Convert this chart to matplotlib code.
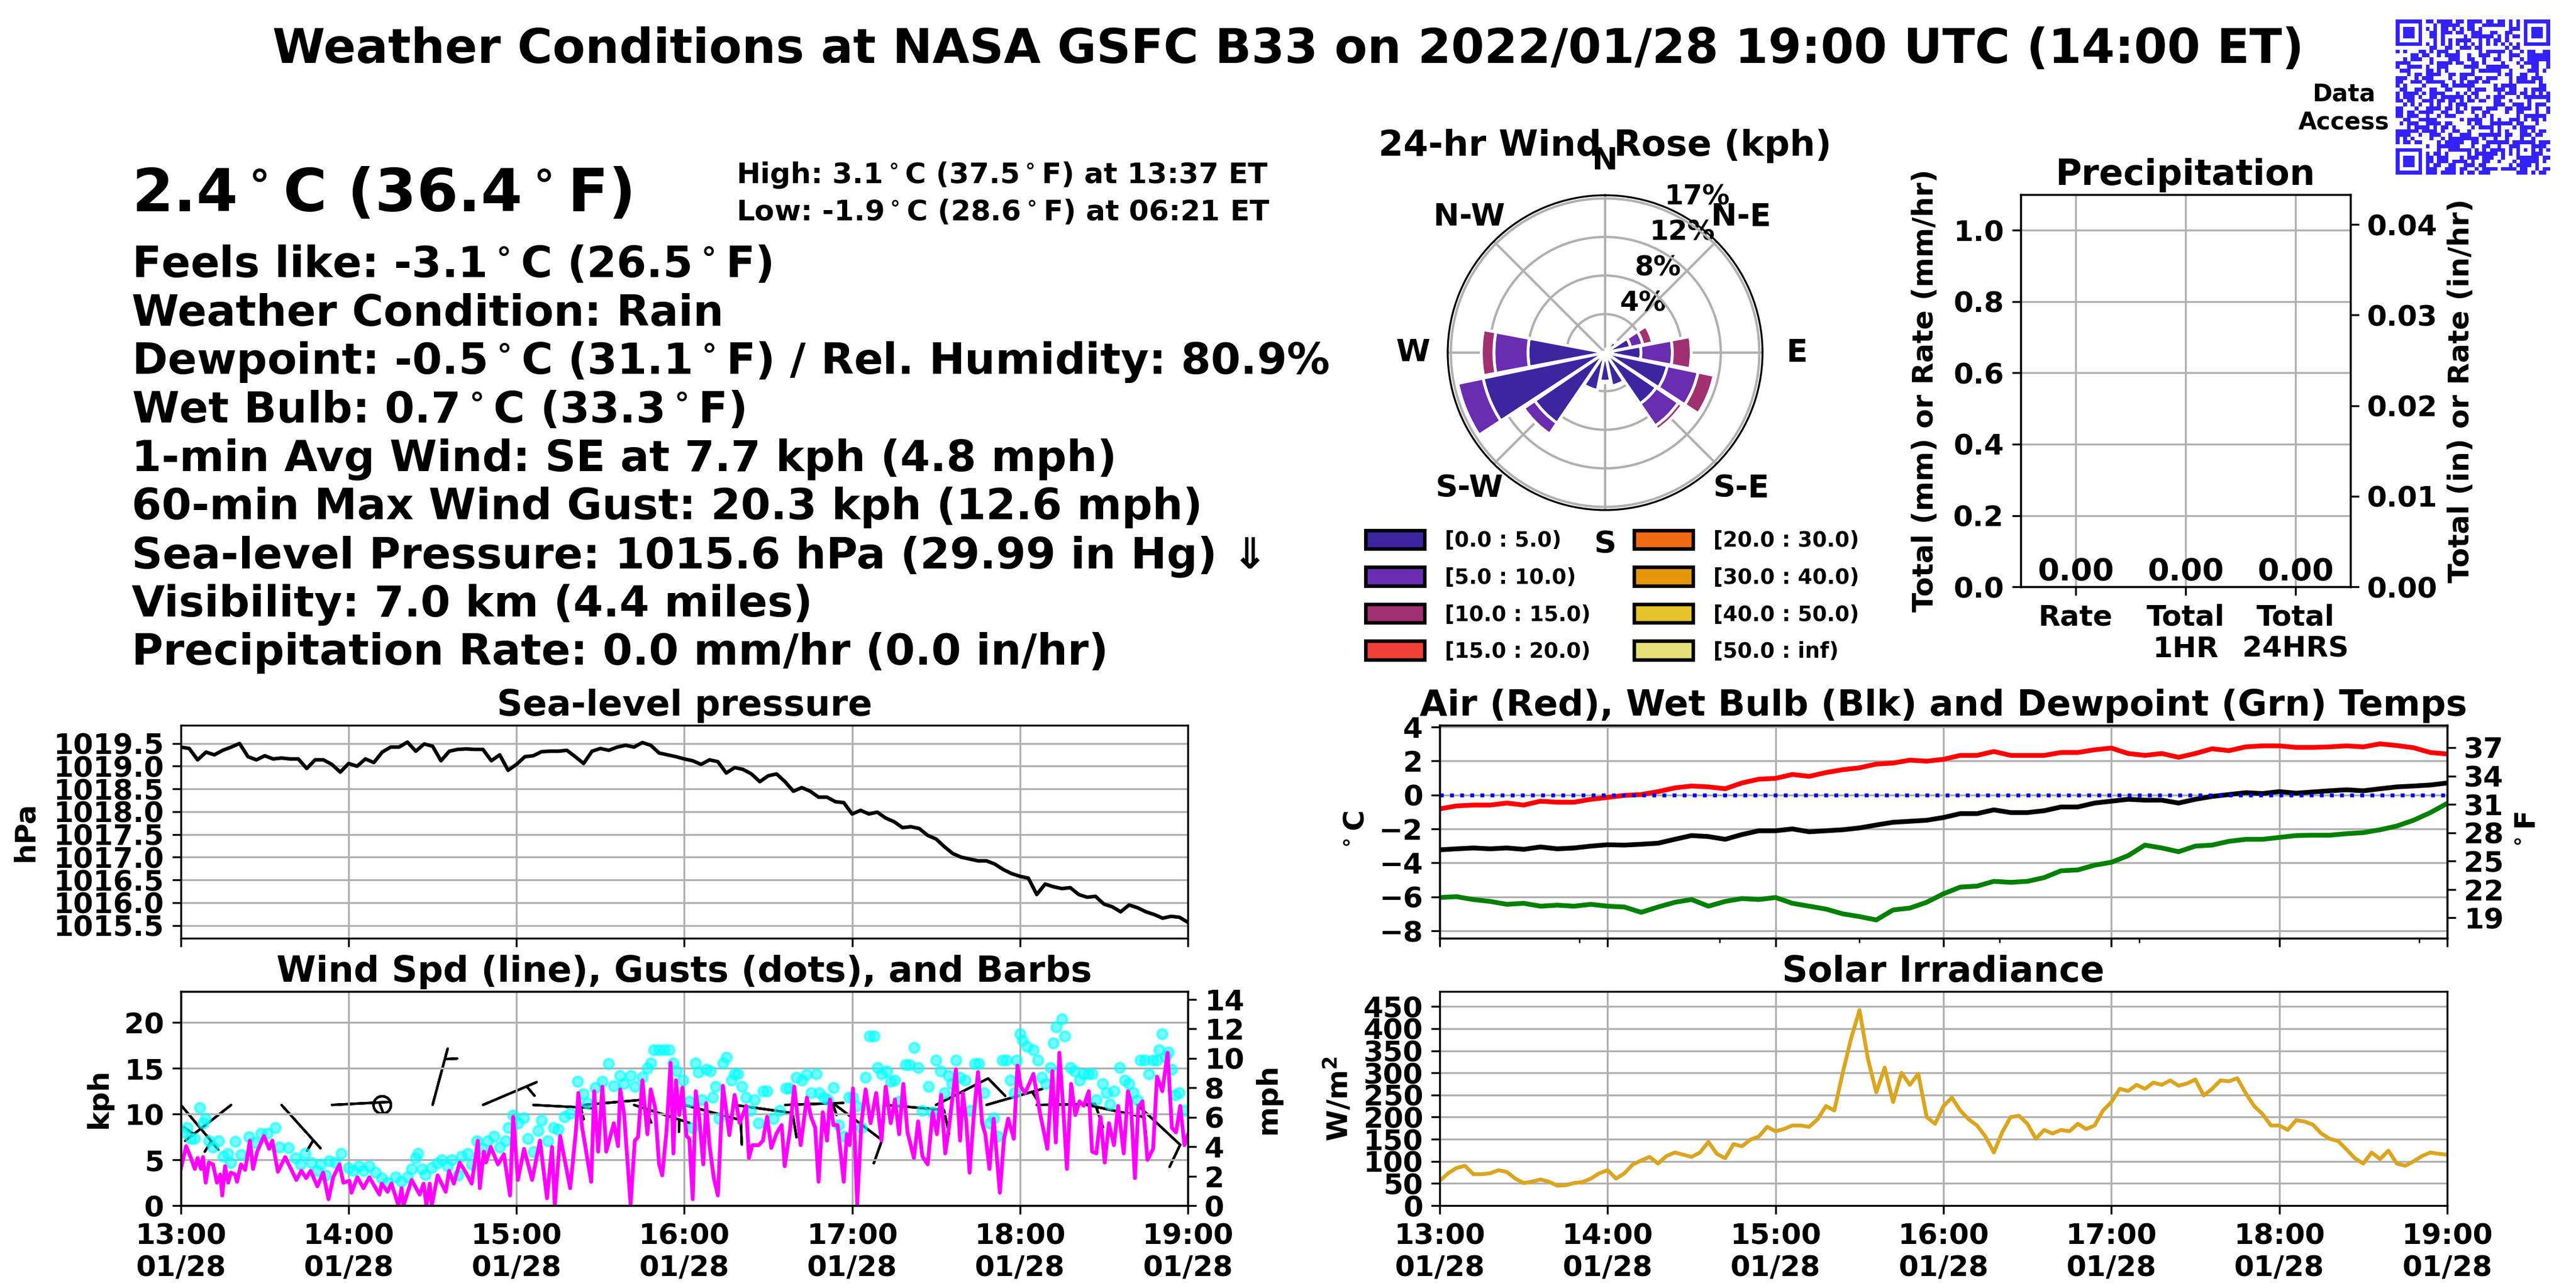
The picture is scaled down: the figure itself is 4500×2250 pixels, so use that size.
import matplotlib
matplotlib.use("Agg")
import matplotlib.pyplot as plt
import matplotlib.dates as mdates
from matplotlib.patches import Patch
from matplotlib.colors import ListedColormap
import numpy as np
from datetime import datetime, timedelta

plt.rcParams["font.family"] = ["DejaVu Sans"]
plt.rcParams["font.weight"] = "bold"
plt.rcParams["axes.titleweight"] = "bold"
plt.rcParams["axes.labelweight"] = "bold"
plt.rcParams["font.size"] = 12
plt.rcParams["grid.color"] = "#b0b0b0"

# ---------------- data ----------------
# sea-level pressure (hPa), every 3 minutes from 13:00 to 19:00 UTC
pressure = [
    1019.42, 1019.39, 1019.14, 1019.31, 1019.25, 1019.35, 1019.42, 1019.50, 1019.21, 1019.14,
    1019.23, 1019.16, 1019.18, 1019.16, 1019.16, 1018.95, 1019.14, 1019.14, 1019.04, 1018.87,
    1019.06, 1019.00, 1019.16, 1019.08, 1019.31, 1019.42, 1019.42, 1019.53, 1019.33, 1019.49,
    1019.44, 1019.12, 1019.33, 1019.37, 1019.38, 1019.37, 1019.37, 1019.12, 1019.25, 1018.91,
    1019.04, 1019.21, 1019.23, 1019.32, 1019.33, 1019.33, 1019.35, 1019.21, 1019.06, 1019.33,
    1019.39, 1019.35, 1019.42, 1019.46, 1019.42, 1019.52, 1019.46, 1019.29, 1019.25, 1019.21,
    1019.16, 1019.12, 1019.04, 1019.14, 1019.10, 1018.85, 1018.97, 1018.93, 1018.83, 1018.66,
    1018.79, 1018.83, 1018.66, 1018.45, 1018.53, 1018.45, 1018.32, 1018.32, 1018.22, 1018.20,
    1017.95, 1018.03, 1017.95, 1017.99, 1017.86, 1017.78, 1017.65, 1017.67, 1017.63, 1017.48,
    1017.40, 1017.23, 1017.08, 1017.00, 1016.96, 1016.92, 1016.92, 1016.85, 1016.73, 1016.64,
    1016.58, 1016.54, 1016.18, 1016.41, 1016.35, 1016.31, 1016.33, 1016.18, 1016.12, 1016.14,
    1015.97, 1015.91, 1015.80, 1015.95, 1015.89, 1015.80, 1015.74, 1015.66, 1015.70, 1015.68,
    1015.57,
]

# solar irradiance (W/m^2), every 3 minutes
solar = [
    56, 73, 85, 90, 71, 71, 73, 80, 76, 61, 51, 54, 59, 54, 45, 46, 51, 53, 61, 73,
    80, 61, 73, 93, 102, 110, 95, 112, 120, 115, 110, 120, 144, 117, 107, 139, 134, 149, 156, 178,
    168, 173, 181, 181, 178, 195, 225, 215, 300, 378, 442, 332, 256, 312, 234, 300, 273, 298, 200, 185,
    225, 244, 215, 195, 181, 156, 120, 166, 200, 203, 185, 151, 171, 163, 171, 168, 185, 173, 181, 215,
    234, 264, 259, 273, 264, 278, 273, 283, 271, 276, 285, 249, 264, 283, 281, 288, 254, 225, 207, 181,
    181, 171, 193, 190, 183, 163, 151, 146, 127, 107, 95, 120, 105, 124, 95, 90, 100, 112, 120, 117,
    115,
]

# temperatures (deg C), every 6 minutes
air_temp = [
    -0.82, -0.65, -0.60, -0.60, -0.48, -0.60, -0.37, -0.43, -0.43, -0.26,
    -0.15, -0.03, 0.02, 0.19, 0.41, 0.52, 0.47, 0.36, 0.70, 0.92,
    0.97, 1.20, 1.09, 1.31, 1.48, 1.59, 1.81, 1.87, 2.04, 1.98,
    2.09, 2.32, 2.32, 2.55, 2.32, 2.32, 2.32, 2.49, 2.49, 2.65,
    2.75, 2.43, 2.32, 2.43, 2.21, 2.43, 2.71, 2.60, 2.82, 2.88,
    2.88, 2.79, 2.79, 2.82, 2.88, 2.82, 3.00, 2.90, 2.77, 2.49,
    2.40,
]
wet_bulb = [
    -3.23, -3.17, -3.12, -3.17, -3.12, -3.20, -3.06, -3.17, -3.12, -3.01,
    -2.93, -2.95, -2.90, -2.84, -2.61, -2.39, -2.45, -2.61, -2.33, -2.11,
    -2.11, -2.00, -2.17, -2.11, -2.05, -1.94, -1.77, -1.61, -1.55, -1.49,
    -1.33, -1.10, -1.10, -0.88, -1.04, -1.04, -0.93, -0.71, -0.71, -0.48,
    -0.37, -0.26, -0.31, -0.31, -0.48, -0.26, -0.09, 0.02, 0.13, 0.08,
    0.19, 0.10, 0.17, 0.24, 0.30, 0.24, 0.36, 0.47, 0.52, 0.58,
    0.70,
]
dewpoint = [
    -6.03, -5.98, -6.15, -6.26, -6.43, -6.37, -6.54, -6.48, -6.54, -6.43,
    -6.54, -6.59, -6.90, -6.59, -6.31, -6.15, -6.54, -6.26, -6.09, -6.15,
    -6.03, -6.37, -6.54, -6.71, -6.99, -7.15, -7.35, -6.76, -6.65, -6.31,
    -5.81, -5.42, -5.36, -5.08, -5.14, -5.08, -4.86, -4.46, -4.41, -4.13,
    -3.96, -3.57, -2.95, -3.12, -3.34, -3.01, -2.95, -2.73, -2.61, -2.61,
    -2.50, -2.39, -2.37, -2.37, -2.28, -2.22, -2.05, -1.83, -1.49, -1.04,
    -0.50,
]

# wind speed (kph) at minutes after 13:00
wind_min = [
    0.0, 1.9, 3.6, 5.0, 6.0, 7.2, 7.9, 8.9, 10.0, 11.5, 12.9, 14.1, 14.8, 15.8, 16.9, 17.9, 19.4, 20.1, 21.5, 23.0,
    24.7, 25.8, 27.3, 29.7, 31.6, 32.7, 34.7, 37.3, 41.3, 43.1, 44.8, 46.4, 48.8, 50.9, 52.8, 54.5, 56.7, 58.1, 60.3, 61.0,
    63.1, 65.3, 67.4, 71.0, 71.8, 73.9, 75.3, 77.8, 78.9, 79.6, 82.5, 85.4, 86.8, 87.8, 89.0, 89.7, 91.8, 94.7, 95.9, 97.6,
    99.7, 101.9, 104.0, 106.2, 106.9, 108.3, 109.1, 110.8, 113.4, 115.5, 117.7, 118.8, 120.5, 122.7, 125.6, 128.4, 130.9, 132.7, 133.7, 135.6,
    139.2, 141.3, 142.1, 143.5, 146.7, 147.8, 149.2, 150.7, 152.1, 154.8, 156.3, 157.1, 158.5, 160.8,
    162.3, 163.5, 165.0, 166.8, 168.0, 169.5, 171.0, 172.1, 173.6, 175.1,
    176.1, 177.0, 178.2, 179.3, 180.8, 181.8, 183.0, 184.1, 185.3, 186.8,
    187.8, 189.0, 190.5, 192.0, 193.8, 196.1, 198.0, 199.8, 202.1, 203.1,
    204.3, 206.6, 208.1, 209.6, 211.1, 213.0, 214.8, 215.9, 217.8, 219.3,
    221.6, 223.8, 225.3, 226.8, 228.0, 229.5, 231.0, 232.1, 233.3, 234.8,
    237.0, 238.1, 239.1, 240.3, 241.8, 243.3, 244.8, 246.6, 248.6, 250.5,
    252.0, 253.8, 255.3, 256.8, 258.3, 259.8, 262.1, 263.6, 265.1, 267.0,
    268.8, 270.3, 271.8, 273.3, 274.8, 277.1, 278.6, 279.6, 280.8, 282.0,
    283.5, 285.0, 286.5, 287.6, 289.1, 290.6, 292.8, 294.3, 295.8, 297.8,
    299.1, 300.3, 301.8, 303.3, 304.8, 307.1, 309.8, 311.6, 312.8, 314.1,
    315.3, 316.8, 318.3, 319.8, 321.3, 322.8, 324.6, 325.8, 327.3, 328.8,
    330.3, 331.8, 333.6, 335.1, 337.1, 338.6, 339.6, 341.1, 342.3, 343.8,
    345.6, 347.6, 349.0, 350.9, 352.8, 354.3, 355.8, 357.3, 358.8, 360.0,
]
wind_kph = [
    4.0, 6.5, 5.2, 4.0, 5.2, 4.0, 5.3, 2.5, 4.7, 4.5, 2.5, 3.4, 1.1, 4.3, 2.5, 3.6, 3.4, 2.6, 4.5, 3.9,
    7.1, 4.0, 5.9, 7.6, 6.2, 7.1, 3.7, 5.3, 2.8, 3.8, 3.0, 3.8, 2.1, 3.6, 0.7, 3.1, 4.5, 2.5, 2.7, 1.4,
    3.1, 1.9, 3.1, 1.2, 2.4, 1.5, 2.4, 0.0, 1.9, 0.0, 2.8, 1.2, 2.4, 0.0, 2.4, 0.0, 3.3, 1.5, 3.8, 2.4,
    4.7, 3.6, 2.4, 7.1, 1.9, 5.9, 4.7, 6.4, 4.5, 5.6, 1.1, 9.7, 2.8, 6.2, 2.8, 7.1, 0.8, 6.4, 0.0, 7.6,
    1.9, 8.3, 12.3, 8.5, 2.6, 12.5, 5.9, 13.0, 5.9, 9.0, 6.5, 12.7, 9.9, 0.1,
    7.1, 7.5, 13.7, 7.8, 12.7, 10.8, 4.5, 3.3, 8.0, 15.6,
    5.7, 13.7, 9.9, 12.9, 7.6, 7.3, 0.7, 12.5, 9.7, 4.5,
    11.2, 6.6, 3.1, 1.1, 13.1, 7.7, 12.1, 9.0, 10.9, 5.2,
    6.6, 6.6, 7.1, 9.7, 6.3, 7.9, 8.8, 4.3, 8.3, 13.0,
    6.6, 11.8, 9.7, 8.5, 2.6, 10.2, 7.1, 11.6, 8.8, 8.8,
    2.6, 7.8, 6.6, 12.8, 0.1, 9.0, 12.7, 9.0, 12.3, 7.1,
    13.0, 9.0, 11.6, 7.8, 13.3, 8.0, 5.2, 9.2, 5.4, 4.5,
    10.2, 7.8, 12.1, 5.7, 9.0, 14.9, 7.1, 12.3, 9.2, 3.6,
    9.9, 14.6, 9.0, 7.8, 4.0, 9.5, 1.4, 7.3, 9.5, 7.3,
    15.3, 13.0, 12.3, 13.3, 14.4, 10.2, 6.2, 14.7, 6.9, 16.7,
    11.4, 4.0, 13.3, 9.9, 11.4, 10.9, 12.5, 5.9, 5.7, 9.7,
    4.7, 9.0, 6.6, 10.9, 5.7, 12.5, 11.4, 3.0, 10.7, 11.4,
    5.0, 6.2, 14.1, 12.5, 16.7, 8.5, 8.0, 10.9, 6.6, 7.7,
]

# wind gusts (kph) at minutes after 13:00
gust_min = [
    0.7, 2.2, 3.6, 5.0, 6.7, 7.9, 8.9, 10.0, 11.5, 13.6,
    15.1, 16.9, 17.9, 19.4, 21.5, 24.4, 26.5, 28.7, 30.9, 33.7,
    35.2, 38.5, 40.9, 42.8, 44.5, 46.6, 48.8, 49.9, 51.7, 53.1,
    55.2, 57.4, 60.0, 61.7, 63.6, 65.3, 67.4, 69.6, 71.8, 73.9,
    76.8, 78.9, 81.1, 82.5, 84.0, 84.7, 86.1, 87.5, 89.7, 91.8,
    93.3, 95.4, 96.9, 99.0, 100.4, 102.6, 104.0, 105.9, 107.6, 109.8,
    111.9, 114.1, 116.0, 117.0, 118.8, 120.5, 122.7, 124.1, 126.0, 127.7,
    128.9, 131.3, 133.2, 134.9, 137.1, 139.2, 141.8, 143.8, 145.3, 148.2,
    150.7, 153.0, 154.8, 157.0, 158.5, 160.8, 162.3, 165.0, 166.8, 168.0,
    169.1, 171.0, 172.8, 174.6, 176.1, 177.3, 179.6, 181.8, 183.0, 184.1,
    185.1, 186.3, 187.8, 189.3, 190.1, 191.1, 192.3, 193.8, 195.0, 196.8,
    198.0, 199.1, 200.6, 202.1, 203.6, 205.1, 206.6, 208.1, 209.6, 211.8,
    214.1, 216.3, 217.5, 220.1, 222.0, 223.8, 225.3, 227.1, 228.3, 229.8,
    231.3, 233.3, 235.1, 237.3, 238.8, 240.3, 241.5, 243.3, 244.8, 246.3,
    247.8, 249.0, 250.5, 252.3, 253.8, 255.3, 256.8, 259.1, 260.6, 262.1,
    263.6, 265.1, 267.3, 268.8, 270.0, 271.5, 273.0, 274.5, 275.6, 277.1,
    278.6, 280.5, 282.3, 283.8, 285.3, 287.1, 289.1, 290.6, 292.1, 293.6,
    295.1, 296.6, 298.1, 298.8, 300.0, 300.9, 302.5, 304.8, 306.3, 307.8,
    309.3, 310.8, 312.0, 313.0, 315.0, 316.1, 318.0, 319.5, 321.3, 322.8,
    324.3, 325.8, 327.3, 329.6, 331.0, 332.1, 333.6, 335.6, 337.5, 339.0,
    340.5, 342.0, 343.1, 344.6, 346.1, 347.6, 349.0, 349.8, 350.9, 352.1,
    353.1, 354.3, 355.5, 357.0, 358.8,
]
gust_kph = [
    8.0, 8.5, 7.3, 7.3, 10.7, 9.0, 9.5, 7.1, 6.4, 7.1,
    5.4, 5.7, 4.7, 7.0, 5.6, 7.5, 6.9, 7.9, 7.9, 8.5,
    6.4, 6.3, 5.2, 4.5, 5.7, 4.7, 3.8, 4.5, 3.3, 4.9,
    4.7, 5.7, 4.1, 3.8, 4.3, 3.8, 4.3, 3.6, 3.0, 2.5,
    3.1, 2.6, 3.1, 4.0, 5.2, 5.7, 4.0, 3.4, 4.1, 4.6,
    5.0, 4.3, 5.0, 3.3, 5.4, 5.7, 4.5, 7.1, 6.2, 7.1,
    7.6, 6.4, 7.1, 8.5, 9.9, 9.0, 9.6, 7.3, 5.9, 8.2,
    9.3, 7.1, 8.5, 8.3, 9.7, 10.1, 13.6, 12.2, 11.2, 12.9,
    13.6, 15.5, 13.1, 14.2, 13.3, 14.2, 13.0, 14.0, 15.0, 15.6,
    17.0, 17.0, 17.0, 17.0, 15.6, 14.7, 13.7, 11.4, 8.5, 15.6,
    14.6, 11.6, 14.9, 14.7, 11.8, 13.0, 9.5, 15.6, 16.2, 13.7,
    14.4, 14.4, 13.0, 11.8, 10.4, 11.6, 9.0, 12.5, 12.5, 9.5,
    10.4, 12.8, 12.8, 14.0, 13.7, 14.3, 12.3, 14.4, 12.3, 11.8,
    11.6, 12.9, 8.8, 7.6, 11.8, 11.8, 10.9, 8.5, 14.0, 18.5,
    18.5, 15.1, 14.4, 14.7, 13.6, 13.7, 11.4, 15.4, 15.4, 17.3,
    15.1, 10.4, 13.0, 10.2, 15.9, 14.7, 12.3, 14.2, 13.3, 15.9,
    14.0, 13.7, 10.4, 15.5, 15.5, 12.3, 9.0, 9.6, 7.6, 15.9,
    15.9, 13.7, 12.3, 15.9, 18.8, 18.1, 17.4, 17.0, 15.9, 14.0,
    13.3, 15.1, 17.8, 19.5, 20.4, 18.5, 15.1, 14.7, 13.7, 14.4,
    14.4, 14.4, 11.6, 13.3, 12.3, 11.1, 12.5, 15.1, 13.7, 13.3,
    12.3, 11.5, 15.9, 15.9, 14.4, 15.9, 15.9, 17.0, 18.8, 16.3,
    16.8, 14.9, 12.1, 12.3, 10.4,
]

# wind barbs every 18 minutes: direction wind comes from (deg) and speed
barb_dir = [140, 232, 138, 87, 0, 15, 67, 93, 85, 108, 105, 98, 88, 127, 95, 63, 74, 89, 102, 133]
barb_kph = [7, 7, 7, 7, 2, 7, 7, 7, 12, 7, 12, 12, 7, 12, 12, 12, 7, 12, 12, 12]

# 24-hr wind rose, percent of time per direction and speed bin
rose_dir = [0, 22.5, 45, 67.5, 90, 112.5, 135, 157.5, 180, 202.5, 225, 247.5, 270, 292.5, 315, 337.5]
rose_0_5 = [0.0, 0.4, 1.5, 2.9, 4.0, 7.1, 6.9, 3.8, 3.2, 4.3, 9.5, 13.9, 8.6, 0.0, 0.0, 0.0]
rose_5_10 = [0.0, 0.0, 0.2, 1.4, 3.5, 3.5, 3.0, 0.2, 0.15, 0.3, 1.5, 2.9, 3.8, 0.0, 0.0, 0.0]
rose_10_15 = [0.0, 0.0, 0.0, 1.1, 2.1, 1.8, 0.5, 0.0, 0.0, 0.0, 0.0, 0.0, 1.4, 0.0, 0.0, 0.0]
rose_bins = ["[0.0 : 5.0)", "[5.0 : 10.0)", "[10.0 : 15.0)", "[15.0 : 20.0)",
             "[20.0 : 30.0)", "[30.0 : 40.0)", "[40.0 : 50.0)", "[50.0 : inf)"]
rose_colors = ["#3b26a0", "#6a2db0", "#a03070", "#ee4035",
               "#f06a12", "#e4970b", "#e6c32a", "#e6e07a"]

# precipitation
precip_cats = ["Rate", "Total\n1HR", "Total\n24HRS"]
precip_mm = [0.0, 0.0, 0.0]

info_lines = [
    r"Feels like: -3.1$^\circ$C (26.5$^\circ$F)",
    "Weather Condition: Rain",
    r"Dewpoint: -0.5$^\circ$C (31.1$^\circ$F) / Rel. Humidity: 80.9%",
    r"Wet Bulb: 0.7$^\circ$C (33.3$^\circ$F)",
    "1-min Avg Wind: SE at 7.7 kph (4.8 mph)",
    "60-min Max Wind Gust: 20.3 kph (12.6 mph)",
    "Sea-level Pressure: 1015.6 hPa (29.99 in Hg) \u21d3",
    "Visibility: 7.0 km (4.4 miles)",
    "Precipitation Rate: 0.0 mm/hr (0.0 in/hr)",
]

# ---------------- helpers ----------------
T0 = datetime(2022, 1, 28, 13, 0)
T1 = datetime(2022, 1, 28, 19, 0)


def to_times(mins):
    return [T0 + timedelta(minutes=float(m)) for m in mins]


def every(n, step):
    return to_times(np.arange(n) * step)


def time_axis(ax, labels=True):
    ax.set_xlim(T0, T1)
    ax.xaxis.set_major_locator(mdates.HourLocator())
    ax.xaxis.set_major_formatter(mdates.DateFormatter("%H:%M\n%m/%d"))
    ax.tick_params(labelbottom=labels, labelsize=12)
    ax.tick_params(axis="y", labelsize=12)
    ax.grid(True)


fig = plt.figure(figsize=(15, 7.5), dpi=300)

# ---------------- text block ----------------
fig.text(0.5, 0.951, "Weather Conditions at NASA GSFC B33 on 2022/01/28 19:00 UTC (14:00 ET)",
         ha="center", va="baseline", fontsize=20)
fig.text(0.0511, 0.836, r"2.4$^\circ$C (36.4$^\circ$F)", fontsize=25, va="baseline")
fig.text(0.2858, 0.858, r"High: 3.1$^\circ$C (37.5$^\circ$F) at 13:37 ET", fontsize=12, va="baseline")
fig.text(0.2858, 0.829, r"Low: -1.9$^\circ$C (28.6$^\circ$F) at 06:21 ET", fontsize=12, va="baseline")
for i, line in enumerate(info_lines):
    fig.text(0.0511, 0.7849 - i * 0.03764, line, fontsize=18, va="baseline")

# ---------------- pressure ----------------
ax_p = fig.add_axes([0.0702, 0.2716, 0.3909, 0.1653])
ax_p.plot(every(len(pressure), 3), pressure, color="black", lw=1.5)
ax_p.set_ylim(1015.22, 1019.9)
ax_p.set_yticks([1015.5, 1016.0, 1016.5, 1017.0, 1017.5, 1018.0, 1018.5, 1019.0, 1019.5])
ax_p.set_ylabel("hPa", labelpad=6)
ax_p.set_title("Sea-level pressure", fontsize=15, pad=4)
time_axis(ax_p, labels=False)

# ---------------- wind ----------------
ax_w = fig.add_axes([0.0702, 0.0640, 0.3909, 0.1662])
ax_w.plot(to_times(gust_min), gust_kph, "o", color="cyan", alpha=0.55, ms=4.2, mew=1.0)
ax_w.plot(to_times(wind_min), wind_kph, color="magenta", lw=1.6)
barb_t = mdates.date2num(every(len(barb_dir), 18))
bd = np.deg2rad(barb_dir)
bs = np.array(barb_kph, dtype=float)
ax_w.barbs(barb_t, np.full(len(barb_t), 11.0), -bs * np.sin(bd), -bs * np.cos(bd),
           length=7, lw=1.0, color="black")
ax_w.set_ylim(0, 23.4)
ax_w.set_yticks([0, 5, 10, 15, 20])
ax_w.set_ylabel("kph", labelpad=5)
ax_w.set_title("Wind Spd (line), Gusts (dots), and Barbs", fontsize=15, pad=4)
time_axis(ax_w)
ax_w2 = ax_w.twinx()
ax_w2.set_ylim(0, 23.4 / 1.609)
ax_w2.set_yticks([0, 2, 4, 6, 8, 10, 12, 14])
ax_w2.tick_params(labelsize=12)
ax_w2.set_ylabel("mph")

# ---------------- temperatures ----------------
ax_t = fig.add_axes([0.5589, 0.2716, 0.3911, 0.1653])
t6 = every(len(air_temp), 6)
ax_t.plot(t6, air_temp, color="red", lw=2.0)
ax_t.plot(t6, wet_bulb, color="black", lw=2.0)
ax_t.plot(t6, dewpoint, color="green", lw=2.0)
ax_t.axhline(0, color="blue", ls=":", lw=1.6)
ax_t.set_ylim(-8.42, 4.09)
ax_t.set_yticks([-8, -6, -4, -2, 0, 2, 4])
ax_t.set_ylabel(r"$^\circ$C")
ax_t.set_title("Air (Red), Wet Bulb (Blk) and Dewpoint (Grn) Temps", fontsize=15, pad=4)
time_axis(ax_t, labels=False)
ax_t.set_xticks(to_times([50, 100, 150, 200, 250, 350]), minor=True)
ax_t2 = ax_t.twinx()
ax_t2.set_ylim(-8.42 * 1.8 + 32, 4.09 * 1.8 + 32)
ax_t2.set_yticks([19, 22, 25, 28, 31, 34, 37])
ax_t2.tick_params(labelsize=12)
ax_t2.set_ylabel(r"$^\circ$F")

# ---------------- solar ----------------
ax_s = fig.add_axes([0.5589, 0.0640, 0.3911, 0.1662])
ax_s.plot(every(len(solar), 3), solar, color="goldenrod", lw=1.6)
ax_s.set_ylim(0, 484)
ax_s.set_yticks(list(range(0, 451, 50)))
ax_s.set_ylabel(r"W/m$^2$")
ax_s.set_title("Solar Irradiance", fontsize=15, pad=4)
time_axis(ax_s)

# ---------------- precipitation ----------------
ax_r = fig.add_axes([0.7844, 0.5444, 0.1280, 0.3045])
xs = np.arange(len(precip_cats))
ax_r.bar(xs, precip_mm, width=0.6, color="tab:blue")
for x, v in zip(xs, precip_mm):
    ax_r.text(x, v, f"{v:.2f}", ha="center", va="bottom", fontsize=13)
ax_r.set_xlim(-0.5, 2.5)
ax_r.set_ylim(0, 1.1)
ax_r.set_yticks([0.0, 0.2, 0.4, 0.6, 0.8, 1.0])
ax_r.set_xticks(xs)
ax_r.set_xticklabels(precip_cats)
ax_r.tick_params(labelsize=12)
ax_r.grid(True)
ax_r.set_ylabel("Total (mm) or Rate (mm/hr)", labelpad=6)
ax_r.set_title("Precipitation", fontsize=15, pad=4)
ax_r2 = ax_r.twinx()
ax_r2.set_ylim(0, 1.1 / 25.4)
ax_r2.set_yticks([0.0, 0.01, 0.02, 0.03, 0.04])
ax_r2.tick_params(labelsize=12)
ax_r2.set_ylabel("Total (in) or Rate (in/hr)")

# ---------------- wind rose ----------------
ax_rose = fig.add_axes([0.562, 0.604, 0.1222, 0.2444], projection="polar")
ax_rose.set_theta_zero_location("N")
ax_rose.set_theta_direction(-1)
theta = np.deg2rad(rose_dir)
width = np.deg2rad(22.5) * 0.95
bottom = np.zeros(len(rose_dir))
for vals, col in zip([rose_0_5, rose_5_10, rose_10_15], rose_colors):
    ax_rose.bar(theta, vals, width=width, bottom=bottom, color=col,
                edgecolor="white", lw=1.2, zorder=2)
    bottom = bottom + np.array(vals)
ax_rose.set_ylim(0, 17.55)
ax_rose.set_rgrids([4.3, 8.6, 12.9, 17.2], labels=["4%", "8%", "12%", "17%"], fontsize=11.5)
ax_rose.set_thetagrids(range(0, 360, 45), labels=["N", "N-E", "E", "S-E", "S", "S-W", "W", "N-W"],
                       fontsize=13)
ax_rose.tick_params(axis="x", pad=4)
ax_rose.grid(True, color="#b0b0b0", lw=1.0)
fig.text(0.6231, 0.879, "24-hr Wind Rose (kph)", ha="center", va="baseline", fontsize=15)
handles = [Patch(facecolor=c, edgecolor="black", lw=1.5, label=l) for c, l in zip(rose_colors, rose_bins)]
fig.legend(handles=handles, ncol=2, loc="center", bbox_to_anchor=(0.626, 0.537), frameon=False,
           fontsize=8.8, handlelength=2.8, handleheight=1.0, labelspacing=0.75,
           columnspacing=2.1, handletextpad=0.95, borderpad=0)

# ---------------- QR code stand-in ----------------
qr_url = "https://science.gsfc.nasa.gov/weather/b33/data-access"
N = 41
bits = np.unpackbits(np.frombuffer((qr_url * 8).encode(), dtype=np.uint8))[:N * N]
qr = bits.reshape(N, N).astype(bool)
rr, cc = np.indices((N, N))
qr ^= ((rr * cc) % 3 + (rr + cc) % 2) % 2 == 0
qr[:8, :8] = False
qr[:8, -8:] = False
qr[-8:, :8] = False
for r0, c0 in [(0, 0), (0, N - 7), (N - 7, 0)]:
    qr[r0:r0 + 7, c0:c0 + 7] = True
    qr[r0 + 1:r0 + 6, c0 + 1:c0 + 6] = False
    qr[r0 + 2:r0 + 5, c0 + 2:c0 + 5] = True
qr[6, 8:N - 8] = np.arange(8, N - 8) % 2 == 0
qr[8:N - 8, 6] = np.arange(8, N - 8) % 2 == 0
qr[32:37, 32:37] = True
qr[33:36, 33:36] = False
qr[34, 34] = True
ax_q = fig.add_axes([0.930, 0.8644, 0.0598, 0.1204])
ax_q.imshow(qr, cmap=ListedColormap(["white", "#3322ff"]), interpolation="nearest", aspect="auto")
ax_q.axis("off")
fig.text(0.9098, 0.916, "Data\nAccess", ha="center", va="center", fontsize=10)

fig.savefig("out.png", dpi=300)
